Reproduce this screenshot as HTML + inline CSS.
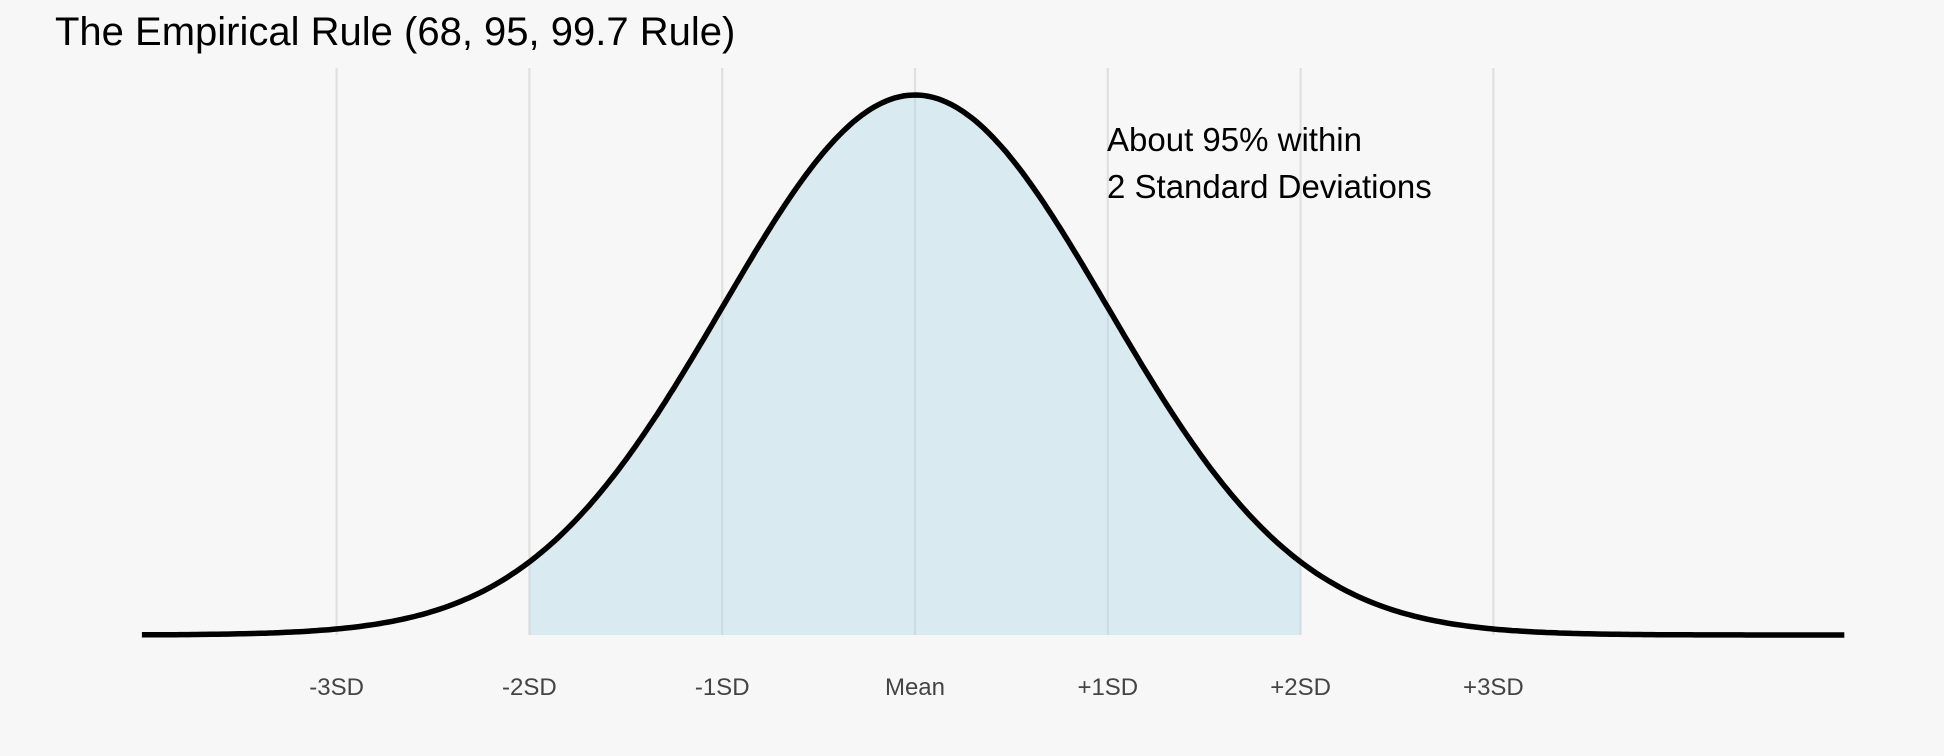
<!DOCTYPE html>
<html><head><meta charset="utf-8"><style>
html,body{margin:0;padding:0;background:#f7f7f7;}
svg{display:block;font-family:"Liberation Sans",Arial,sans-serif;}
</style></head><body>
<svg id="chart" width="1944" height="756" viewBox="0 0 1944 756">
<rect width="1944" height="756" fill="#f7f7f7"/>
<text x="55" y="45" font-size="40" fill="#000">The Empirical Rule (68, 95, 99.7 Rule)</text>
<g id="grid"></g>
<g id="area"></g>
<g id="curve"></g>
<g id="ticks"></g>
<text x="1107" y="151" font-size="33" fill="#000">About 95% within</text>
<text x="1107" y="198" font-size="33" fill="#000">2 Standard Deviations</text>
</svg>
<script>
const tickValues = [-3, -2, -1, 0, 1, 2, 3];
const tickLabels = ["-3SD", "-2SD", "-1SD", "Mean", "+1SD", "+2SD", "+3SD"];
const domainMin = -4.01, domainMax = 4.82;
const shadeFrom = -2, shadeTo = 2;

const NS = "http://www.w3.org/2000/svg";
const xS = v => 915 + v * 192.8;
const peak = 1 / Math.sqrt(2 * Math.PI);
const yS = d => 635 - (d / peak) * 540;
const pdf = z => Math.exp(-z * z / 2) / Math.sqrt(2 * Math.PI);

const grid = document.getElementById('grid');
tickValues.forEach((v, i) => {
  const l = document.createElementNS(NS, 'line');
  l.setAttribute('x1', xS(v)); l.setAttribute('x2', xS(v));
  l.setAttribute('y1', 68); l.setAttribute('y2', 635);
  l.setAttribute('stroke', '#e0e0e0'); l.setAttribute('stroke-width', 2.2);
  
  
  grid.appendChild(l);
  const t = document.createElementNS(NS, 'text');
  t.setAttribute('x', xS(v)); t.setAttribute('y', 695);
  t.setAttribute('text-anchor', 'middle'); t.setAttribute('font-size', 24);
  t.setAttribute('fill', '#444');
  t.textContent = tickLabels[i];
  
  
  document.getElementById('ticks').appendChild(t);
});

function pts(a, b, n) {
  const r = [];
  for (let i = 0; i <= n; i++) { const z = a + (b - a) * i / n; r.push([xS(z), yS(pdf(z))]); }
  return r;
}
const sp = pts(shadeFrom, shadeTo, 200);
let d = 'M' + xS(shadeFrom) + ',' + yS(0) + ' ' + sp.map(p => 'L' + p[0].toFixed(1) + ',' + p[1].toFixed(1)).join(' ') + ' L' + xS(shadeTo) + ',' + yS(0) + 'Z';
const area = document.createElementNS(NS, 'path');
area.setAttribute('d', d); area.setAttribute('fill', '#add8e6'); area.setAttribute('fill-opacity', 0.4);


document.getElementById('area').appendChild(area);

const cp = pts(domainMin, domainMax, 400);
const line = document.createElementNS(NS, 'path');
line.setAttribute('d', 'M' + cp.map(p => p[0].toFixed(1) + ',' + p[1].toFixed(1)).join(' L'));
line.setAttribute('fill', 'none'); line.setAttribute('stroke', '#000'); line.setAttribute('stroke-width', 5.5);


document.getElementById('curve').appendChild(line);
</script>
</body></html>
